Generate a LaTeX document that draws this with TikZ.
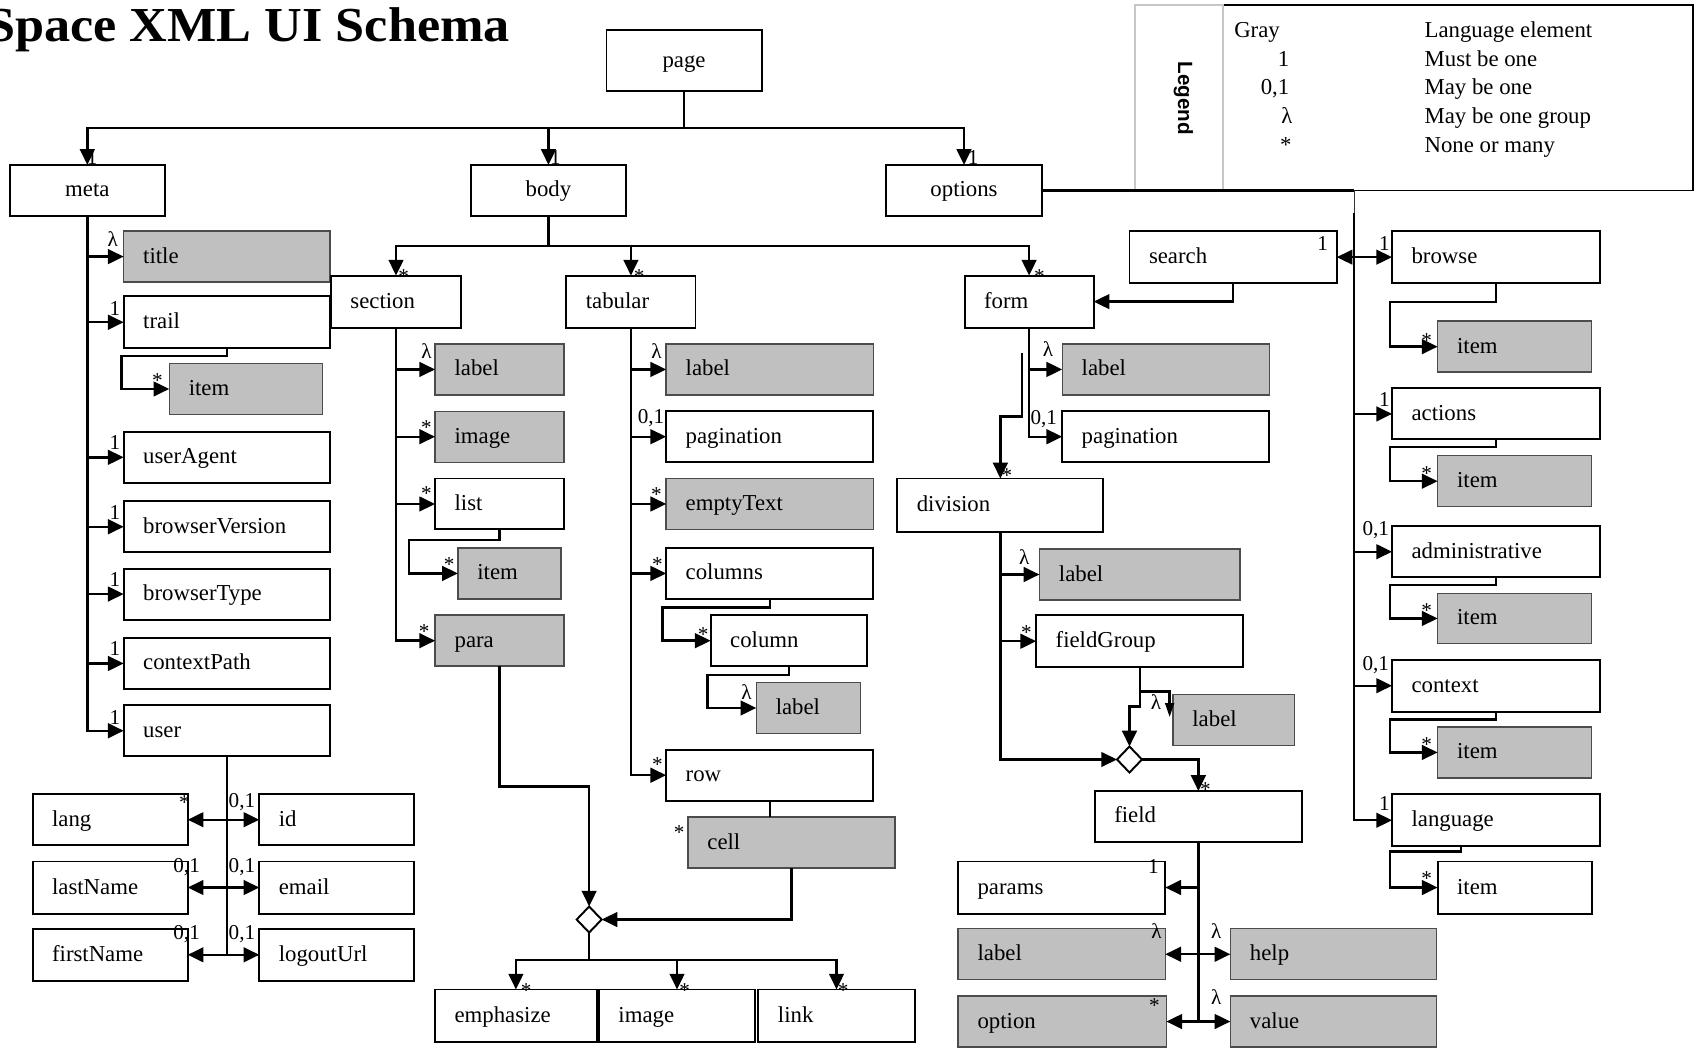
\documentclass[tikz,border=0pt]{standalone}
\usepackage{fontspec}
\setmainfont{Liberation Serif}
\newfontfamily\lsans{Liberation Sans}
\usetikzlibrary{arrows.meta,shapes.geometric}
\definecolor{graybox}{RGB}{192,192,192}
\tikzset{
 bx/.style={draw=black, line width=1.8pt, fill=white, inner xsep=18pt, inner ysep=0pt, outer sep=0pt, align=left, font=\fontsize{21}{24}\selectfont, text height=16.5pt, text depth=4.5pt},
 gbx/.style={fill=graybox, draw=black!70, line width=1.3pt},
 cbx/.style={align=center},
 conn/.style={line width=2.2pt, black},
 arr/.style={conn, -{Triangle[length=14.5pt,width=13.5pt]}},
 darr/.style={conn, {Triangle[length=14.5pt,width=13.5pt]}-{Triangle[length=14.5pt,width=13.5pt]}},
 ml/.style={font=\fontsize{19.5}{19.5}\selectfont, inner sep=0pt},
 mls/.style={ml, yshift=-2.7pt},
 lt/.style={font=\fontsize{21}{24}\selectfont, inner sep=0pt, anchor=base west},
 dia/.style={diamond, draw, line width=1.8pt, fill=white, minimum width=23pt, minimum height=24pt, inner sep=0pt, outer sep=0pt}
}
\newcommand\mkbox[7][]{%
 \pgfmathsetmacro\mbW{#5-#3}%
 \pgfmathsetmacro\mbH{#6-#4}%
 \pgfmathsetmacro\mbT{#5-#3-36}%
 \node[bx,#1,minimum width=\mbW pt,minimum height=\mbH pt,text width=\mbT pt,anchor=north west] (#2) at (#3,#4) {#7};}
\newcommand\mlab[4]{\node[ml] (#1) at (#2,#3) {#4};}
\newcommand\mstar[3]{\node[mls] (#1) at (#2,#3) {*};}
\begin{document}
\begin{tikzpicture}[x=1pt,y=-1pt]
\useasboundingbox (0,0) rectangle (1565,968);
% title
\node[font=\bfseries\fontsize{45}{50}\selectfont, anchor=base west, inner sep=0pt] (ttl) at (-13,38) {\scalebox{1.07}[1]{Space XML UI Schema}};
% legend
\node[draw=black, line width=1.8pt, minimum width=433pt, minimum height=171pt, anchor=north west, outer sep=0pt, inner sep=0pt] (lgbox) at (1127,4.6) {};
\node[draw=black!22, line width=1.5pt, fill=white, minimum width=81pt, minimum height=171pt, anchor=north west, outer sep=0pt, inner sep=0pt] (lglbl) at (1046,4.6) {};
\node[rotate=-90, font=\lsans\bfseries\fontsize{19}{19}\selectfont, inner sep=0pt] (lgtxt) at (1090.6,90.6) {Legend};
\node[lt] (lga1) at (1137.4,34.7) {Gray};
\node[lt, anchor=base east] (lga2) at (1188.5,61) {1};
\node[lt, anchor=base east] (lga3) at (1188.5,87.5) {0,1};
\node[lt, anchor=base] (lga4) at (1186,114) {λ};
\node[lt, anchor=base] (lga5) at (1185,140.5) {*};
\node[lt] (lgb1) at (1312.8,34.7) {Language element};
\node[lt] (lgb2) at (1312.8,61) {Must be one};
\node[lt] (lgb3) at (1312.8,87.5) {May be one};
\node[lt] (lgb4) at (1312.8,114) {May be one group};
\node[lt] (lgb5) at (1312.8,140.5) {None or many};
% boxes
\mkbox[cbx]{page}{559}{28}{702}{84}{page}
\mkbox[cbx]{meta}{9}{152}{152}{199}{meta}
\mkbox[cbx]{body}{434}{152}{577}{199}{body}
\mkbox[cbx]{options}{817}{152}{960}{199}{options}
\mkbox[gbx]{title}{114}{213}{304}{260}{title}
\mkbox{trail}{114}{273}{304}{321}{trail}
\mkbox[gbx]{titem}{156}{335}{297}{382}{item}
\mkbox{useragent}{114}{398}{304}{445}{userAgent}
\mkbox{bversion}{114}{462}{304}{509}{browserVersion}
\mkbox{btype}{114}{524}{304}{571}{browserType}
\mkbox{cpath}{114}{588}{304}{635}{contextPath}
\mkbox{user}{114}{650}{304}{697}{user}
\mkbox{lang}{30}{732}{173}{779}{lang}
\mkbox{uid}{239}{732}{382}{779}{id}
\mkbox{lastname}{30}{794}{173}{842}{lastName}
\mkbox{email}{239}{794}{382}{842}{email}
\mkbox{firstname}{30}{856}{173}{904}{firstName}
\mkbox{logout}{239}{856}{382}{904}{logoutUrl}
\mkbox{section}{305}{254}{425}{302}{section}
\mkbox{tabular}{522}{254}{641}{302}{tabular}
\mkbox{form}{889}{254}{1008}{302}{form}
\mkbox[gbx]{slabel}{401}{317}{520}{364}{label}
\mkbox[gbx]{simage}{401}{379}{520}{426}{image}
\mkbox{list}{401}{441}{520}{488}{list}
\mkbox[gbx]{litem}{422}{505}{517}{552}{item}
\mkbox[gbx]{para}{401}{567}{520}{614}{para}
\mkbox[gbx]{tlabel}{614}{317}{805}{364}{label}
\mkbox{tpag}{614}{379}{805}{426}{pagination}
\mkbox[gbx]{empty}{614}{441}{805}{488}{emptyText}
\mkbox{columns}{614}{505}{805}{552}{columns}
\mkbox{column}{655}{567}{799}{614}{column}
\mkbox[gbx]{clabel}{697}{629}{793}{676}{label}
\mkbox{row}{614}{691}{805}{738}{row}
\mkbox[gbx]{cell}{634}{753}{825}{800}{cell}
\mkbox{emph}{401}{912}{550}{960}{emphasize}
\mkbox{pimage}{552}{912}{696}{960}{image}
\mkbox{link}{699}{912}{843}{960}{link}
\mkbox[gbx]{flabel}{979}{317}{1170}{364}{label}
\mkbox{fpag}{979}{379}{1170}{426}{pagination}
\mkbox{division}{827}{441}{1017}{490}{division}
\mkbox[gbx]{dlabel}{958}{506}{1143}{553}{label}
\mkbox{fieldgroup}{955}{567}{1146}{615}{fieldGroup}
\mkbox[gbx]{fglabel}{1081}{640}{1193}{687}{label}
\mkbox{field}{1009}{729}{1200}{776}{field}
\mkbox{params}{883}{794}{1074}{842}{params}
\mkbox[gbx]{plabel}{883}{856}{1074}{903}{label}
\mkbox[gbx]{help}{1134}{856}{1324}{903}{help}
\mkbox[gbx]{option}{883}{918}{1075}{965}{option}
\mkbox[gbx]{value}{1134}{918}{1324}{965}{value}
\mkbox{search}{1041}{213}{1232}{261}{search}
\mkbox{browse}{1283}{213}{1475}{261}{browse}
\mkbox[gbx]{bitem}{1325}{296}{1467}{343}{item}
\mkbox{actions}{1283}{358}{1475}{405}{actions}
\mkbox[gbx]{aitem}{1325}{420}{1467}{467}{item}
\mkbox{admin}{1283}{485}{1475}{532}{administrative}
\mkbox[gbx]{ditem}{1325}{547}{1467}{593}{item}
\mkbox{context}{1283}{608}{1475}{656}{context}
\mkbox[gbx]{citem}{1325}{670}{1467}{717}{item}
\mkbox{language}{1283}{732}{1475}{780}{language}
\mkbox{litemb}{1325}{794}{1467}{842}{item}
\node[dia] (d1) at (543,847.5) {};
\node[dia] (d2) at (1041,700) {};
% connectors: page
\draw[arr] (page.south) -- (page.south |- 0,118) -| (meta.north);
\draw[arr] (page.south |- 0,118) -| (body.north);
\draw[arr] (page.south |- 0,118) -| (options.north);
% meta
\draw[arr] (meta.south) |- (user.west);
\foreach \c in {title,trail,useragent,bversion,btype,cpath}
  \draw[arr] (meta.south |- \c.west) -- (\c.west);
\draw[arr] (trail.south) -- ++(0,7) -| (titem.west -| 112,0) -- (titem.west);
% user
\draw[conn] (user.south) -- (user.south |- logout.west);
\draw[darr] (lang.east) -- (uid.west);
\draw[darr] (lastname.east) -- (email.west);
\draw[darr] (firstname.east) -- (logout.west);
% body
\draw[conn] (body.south) -- (body.south |- 0,226.5);
\draw[arr] (body.south |- 0,226.5) -| (section.north);
\draw[arr] (body.south |- 0,226.5) -| (tabular.north);
\draw[arr] (body.south |- 0,226.5) -| (form.north);
% section
\draw[arr] (section.south) |- (para.west);
\foreach \c in {slabel,simage,list}
  \draw[arr] (section.south |- \c.west) -- (\c.west);
\draw[arr] (list.south) -- ++(0,9.5) -| (litem.west -| 377,0) -- (litem.west);
\draw[arr] (para.south) -- (para.south |- 0,725) -| (d1.north);
% tabular
\draw[arr] (tabular.south) |- (row.west);
\foreach \c in {tlabel,tpag,empty,columns}
  \draw[arr] (tabular.south |- \c.west) -- (\c.west);
\draw[arr] (columns.south) -- ++(0,8) -| (column.west -| 610.7,0) -- (column.west);
\draw[arr] (column.south) -- ++(0,8) -| (clabel.west -| 652,0) -- (clabel.west);
\draw[conn] (row.south) -- (row.south |- cell.north);
\draw[arr] (cell.south) |- (d1.east);
\draw[conn] (d1.south) -- (d1.south |- 0,885);
\draw[arr] (d1.south |- 0,885) -| (emph.north);
\draw[arr] (d1.south |- 0,885) -| (pimage.north);
\draw[arr] (d1.south |- 0,885) -| (link.north);
% form
\draw[arr] (form.south) |- (fpag.west);
\draw[arr] (form.south |- flabel.west) -- (flabel.west);
\coordinate (dvs) at (941.7,325.7);
\draw[arr] (dvs) -- (941.7,384) -| (division.north);
% division
\draw[arr] (division.south) |- (d2.west);
\draw[arr] (division.south |- dlabel.west) -- (dlabel.west);
\draw[arr] (division.south |- fieldgroup.west) -- (fieldgroup.west);
\coordinate (fgc) at (1078,637.5);
\coordinate (fgt) at (1078,661);
\draw[conn,-{Triangle[length=13pt,width=8pt]}] (fieldgroup.south) |- (fgc) -- (fgt);
\draw[arr] (fieldgroup.south) -- (fieldgroup.south |- 0,651.3) -| (d2.north);
\draw[arr] (d2.east) -| (field.north);
% field
\draw[conn] (field.south) -- (field.south |- option.east);
\draw[arr] (field.south |- params.east) -- (params.east);
\draw[darr] (plabel.east) -- (help.west);
\draw[darr] (option.east) -- (value.west);
% options
\coordinate (otr) at (1248,175.5);
\coordinate (otr2) at (1248,196);
\draw[conn] (options.east) -- (otr);
\draw[line width=0.9pt, black!80] (otr) -- (otr2);
\draw[arr] (otr2) |- (language.west);
\draw[darr] (search.east) -- (browse.west);
\foreach \c in {actions,admin,context}
  \draw[arr] (otr2 |- \c.west) -- (\c.west);
\draw[arr] (search.south) |- (form.east);
\draw[arr] (browse.south) -- ++(0,17.5) -| (bitem.west -| 1281,0) -- (bitem.west);
\draw[arr] (actions.south) -- ++(0,7) -| (aitem.west -| 1281,0) -- (aitem.west);
\draw[arr] (admin.south) -- ++(0,7) -| (ditem.west -| 1281,0) -- (ditem.west);
\draw[arr] (context.south) -- ++(0,7) -| (citem.west -| 1281,0) -- (citem.west);
\draw[arr] (language.south -| 1346.7,0) -- ++(0,4.7) -| (litemb.west -| 1281,0) -- (litemb.west);
% multiplicity labels
\mlab{m1}{85}{145}{1}
\mlab{m2}{512}{145}{1}
\mlab{m3}{897}{145}{1}
\mlab{m4}{104}{220}{λ}
\mlab{m5}{106}{284}{1}
\mstar{m6}{145}{348}
\mlab{m7}{106}{408}{1}
\mlab{m8}{106}{472}{1}
\mlab{m9}{106}{534}{1}
\mlab{m10}{106}{598}{1}
\mlab{m11}{106}{661}{1}
\mstar{m12}{170}{737}
\mlab{m13}{223}{739}{0,1}
\mlab{m14}{172}{799}{0,1}
\mlab{m15}{223}{799}{0,1}
\mlab{m16}{172}{861}{0,1}
\mlab{m17}{223}{861}{0,1}
\mstar{m18}{372}{252}
\mstar{m19}{589}{252}
\mstar{m20}{958}{252}
\mlab{m21}{393}{324}{λ}
\mstar{m22}{393}{391}
\mstar{m23}{393}{452}
\mstar{m24}{414}{518}
\mstar{m25}{391}{579}
\mlab{m26}{605}{324}{λ}
\mlab{m27}{600}{385}{0,1}
\mstar{m28}{605}{453}
\mstar{m29}{606}{518}
\mstar{m30}{648}{582}
\mlab{m31}{688}{638}{λ}
\mstar{m32}{606}{702}
\mstar{m33}{626}{765}
\mstar{m34}{485}{910}
\mstar{m35}{631}{910}
\mstar{m36}{777}{910}
\mlab{m37}{966}{322}{λ}
\mlab{m38}{962}{386}{0,1}
\mstar{m39}{928}{436}
\mlab{m40}{944}{513}{λ}
\mstar{m41}{946}{580}
\mlab{m42}{1065.5}{647}{λ}
\mstar{m43}{1111}{725}
\mlab{m44}{1063}{799}{1}
\mlab{m45}{1066}{858}{λ}
\mlab{m46}{1121}{858}{λ}
\mstar{m47}{1064}{924}
\mlab{m48}{1121}{919}{λ}
\mlab{m49}{1219}{224}{1}
\mlab{m50}{1276}{224}{1}
\mstar{m51}{1315}{311}
\mlab{m52}{1276}{368}{1}
\mstar{m53}{1315}{434}
\mlab{m54}{1268}{489}{0,1}
\mstar{m55}{1315}{560}
\mlab{m56}{1268}{613}{0,1}
\mstar{m57}{1315}{684}
\mlab{m58}{1276}{741}{1}
\mstar{m59}{1315}{807}
\end{tikzpicture}
\end{document}
